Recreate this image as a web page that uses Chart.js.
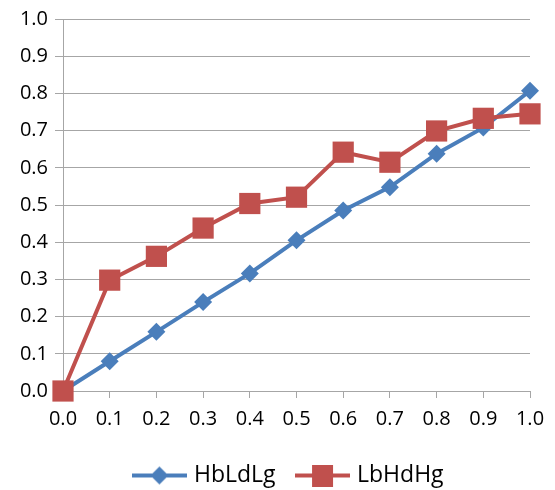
<!DOCTYPE html>
<html>
<head>
<meta charset="utf-8">
<script src="https://cdn.jsdelivr.net/npm/chart.js@4/dist/chart.umd.min.js"></script>
<style>
  html, body { margin: 0; padding: 0; background: #fff; }
  #wrap { width: 555px; height: 490px; }
</style>
</head>
<body>
<div id="wrap"><canvas id="myChart" width="555" height="490"></canvas></div>
<script>
var xValues = [0.0, 0.1, 0.2, 0.3, 0.4, 0.5, 0.6, 0.7, 0.8, 0.9, 1.0];
var hbldlg = [0.0, 0.08, 0.159, 0.239, 0.316, 0.405, 0.485, 0.548, 0.638, 0.708, 0.807];
var lbhdhg = [0.0, 0.298, 0.362, 0.438, 0.504, 0.521, 0.642, 0.615, 0.699, 0.733, 0.745];
var seriesNames = ["HbLdLg", "LbHdHg"];

var blue = "#4a7ebb";
var red = "#c0504d";
var gridColor = "#a6a6a6";
var fontFamily = "'Open Sans', sans-serif";

function points(ys) {
  return xValues.map(function (x, i) { return { x: x, y: ys[i] }; });
}

// legend symbol: short line with the marker on it
function legendIcon(color, style) {
  var c = document.createElement("canvas");
  c.width = 55;
  c.height = 22;
  var g = c.getContext("2d");
  g.strokeStyle = color;
  g.lineWidth = 4;
  g.beginPath();
  g.moveTo(0, 11);
  g.lineTo(55, 11);
  g.stroke();
  g.fillStyle = color;
  if (style == "diamond") {
    g.beginPath();
    g.moveTo(27.5, 2);
    g.lineTo(36.5, 11);
    g.lineTo(27.5, 20);
    g.lineTo(18.5, 11);
    g.closePath();
    g.fill();
  } else {
    g.fillRect(17, 0, 21, 22);
  }
  return c;
}

var icons = [legendIcon(blue, "diamond"), legendIcon(red, "square")];

// legend sits a bit right of centre and lower in the original
var legendNudge = {
  id: "legendNudge",
  afterLayout: function (chart) {
    var lg = chart.legend;
    lg.left += 25; lg.right += 25;
    lg.top += 7; lg.bottom += 7;
  }
};

var dataChart = {
  datasets: [
    {
      label: seriesNames[0],
      data: points(hbldlg),
      borderColor: blue,
      backgroundColor: blue,
      borderWidth: 4,
      pointStyle: "rectRot",
      pointRadius: 9,
      pointBorderWidth: 0,
      clip: false,
      order: 1
    },
    {
      label: seriesNames[1],
      data: points(lbhdhg),
      borderColor: red,
      backgroundColor: red,
      borderWidth: 4,
      pointStyle: "rect",
      pointRadius: 15,
      pointBorderWidth: 0,
      clip: false,
      order: 0
    }
  ]
};

var options = {
  responsive: false,
  animation: false,
  layout: { padding: { top: 8, right: 25, left: 0, bottom: 0 } },
  plugins: {
    tooltip: { enabled: false },
    legend: {
      position: "bottom",
      labels: {
        usePointStyle: true,
        pointStyleWidth: 46,
        color: "#000",
        font: { family: fontFamily, size: 23 },
        padding: 24,
        generateLabels: function (chart) {
          return chart.data.datasets.map(function (ds, i) {
            return {
              text: ds.label,
              pointStyle: icons[i],
              fillStyle: ds.backgroundColor,
              strokeStyle: ds.borderColor,
              lineWidth: 0,
              datasetIndex: i,
              fontColor: "#000"
            };
          });
        }
      }
    }
  },
  scales: {
    x: {
      type: "linear",
      min: 0,
      max: 1,
      afterFit: function (scale) { scale.height = 42; },
      ticks: {
        stepSize: 0.1,
        color: "#000",
        font: { family: fontFamily, size: 20 },
        padding: 9,
        maxRotation: 0,
        callback: function (v) { return Number(v).toFixed(1); }
      },
      grid: { drawOnChartArea: false, drawTicks: true, tickLength: 7, color: gridColor },
      border: { color: gridColor, width: 1 }
    },
    y: {
      min: 0,
      max: 1,
      afterFit: function (scale) { scale.width = 63; },
      ticks: {
        stepSize: 0.1,
        color: "#000",
        font: { family: fontFamily, size: 20 },
        padding: 7,
        callback: function (v) { return Number(v).toFixed(1); }
      },
      grid: { color: gridColor, tickLength: 8 },
      border: { color: gridColor, width: 1 }
    }
  }
};

var ctx = document.getElementById("myChart").getContext("2d");
var myNewChart = new Chart(ctx, { type: "line", data: dataChart, options: options, plugins: [legendNudge] });
</script>
</body>
</html>
